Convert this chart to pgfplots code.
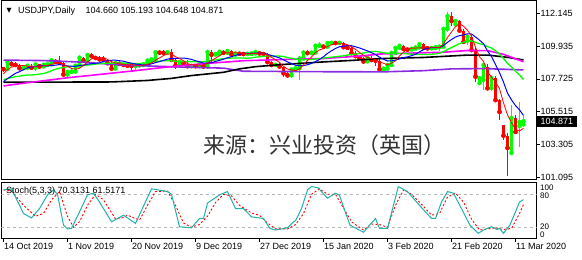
\documentclass[border=0pt]{standalone}
\usepackage{pgfplots}
\pgfplotsset{compat=1.18}
\usepackage{pgfplotstable}
\usepackage{fontspec}
\setmainfont{Liberation Sans}
\newfontfamily\cjk{Noto Sans CJK SC}
\newfontfamily\dejavu{DejaVu Sans}
\definecolor{bullc}{HTML}{00FF00}
\definecolor{bearc}{HTML}{FF0000}
\definecolor{maBlue}{HTML}{0000FF}
\definecolor{maGreen}{HTML}{00FF00}
\definecolor{maMag}{HTML}{FF00FF}
\definecolor{maPur}{HTML}{8A2BE2}
\definecolor{stMain}{HTML}{20B2AA}
\newcommand{\sm}{\fontsize{9}{9}\selectfont}

\pgfplotstableread{
x o h l c
0 108.45 108.52 108.22 108.38
1 108.38 108.92 108.30 108.86
2 108.86 108.94 108.62 108.72
3 108.72 108.86 108.56 108.66
4 108.66 108.74 108.30 108.44
5 108.44 108.50 108.40 108.46
6 108.46 108.70 108.38 108.62
7 108.62 108.76 108.40 108.48
8 108.48 108.74 108.24 108.70
9 108.70 108.76 108.50 108.56
10 108.56 108.72 108.52 108.68
11 108.68 108.74 108.64 108.70
12 108.70 109.08 108.66 108.98
13 108.98 109.06 108.76 108.88
14 108.88 109.28 108.80 108.82
15 108.82 108.90 107.90 108.02
16 108.02 108.32 107.88 108.20
17 108.20 108.26 108.14 108.22
18 108.22 108.72 108.18 108.62
19 108.62 109.24 108.56 109.16
20 109.16 109.22 108.82 108.96
21 108.96 109.48 108.90 109.34
22 109.34 109.48 109.12 109.26
23 109.26 109.30 109.10 109.14
24 109.14 109.24 108.90 109.04
25 109.04 109.24 108.94 109.00
26 109.00 109.06 108.64 108.78
27 108.78 108.84 108.24 108.42
28 108.42 108.86 108.30 108.78
29 108.78 108.82 108.68 108.74
30 108.74 108.82 108.56 108.66
31 108.66 108.80 108.48 108.62
32 108.62 108.70 108.24 108.60
33 108.60 108.70 108.30 108.64
34 108.64 108.78 108.44 108.66
35 108.66 108.76 108.62 108.70
36 108.70 109.04 108.64 108.96
37 108.96 109.12 108.86 109.04
38 109.04 109.58 109.00 109.52
39 109.52 109.62 109.38 109.50
40 109.50 109.70 109.40 109.48
41 109.48 109.56 109.42 109.52
42 109.52 109.72 108.96 109.00
43 109.00 109.08 108.40 108.62
44 108.62 108.90 108.44 108.86
45 108.86 108.94 108.66 108.76
46 108.76 109.00 108.46 108.58
47 108.58 108.66 108.52 108.60
48 108.60 108.70 108.46 108.58
49 108.58 108.86 108.56 108.76
50 108.76 108.82 108.44 108.56
51 108.56 109.70 108.48 109.54
52 109.54 109.70 108.80 109.36
53 109.36 109.46 109.30 109.40
54 109.40 109.60 109.32 109.56
55 109.56 109.66 109.42 109.48
56 109.48 109.72 109.40 109.60
57 109.60 109.68 109.26 109.36
58 109.36 109.54 109.30 109.44
59 109.44 109.50 109.38 109.42
60 109.42 109.52 109.30 109.40
61 109.40 109.50 109.34 109.42
62 109.42 109.48 109.38 109.44
63 109.44 109.62 109.34 109.54
64 109.54 109.60 109.30 109.44
65 109.44 109.48 109.36 109.40
66 109.40 109.44 108.80 108.86
67 108.86 108.96 108.50 108.66
68 108.66 108.72 108.60 108.68
69 108.68 108.86 108.46 108.56
70 108.56 108.60 107.84 108.10
71 108.10 108.16 107.90 107.96
72 107.96 108.40 107.78 108.36
73 108.36 108.60 108.24 108.44
74 108.44 109.24 107.66 109.10
75 109.10 109.66 109.00 109.50
76 109.50 109.70 109.42 109.46
77 109.46 109.52 109.40 109.50
78 109.50 110.04 109.44 109.96
79 109.96 110.20 109.86 109.98
80 109.98 110.02 109.82 109.90
81 109.90 110.18 109.86 110.14
82 110.14 110.30 110.06 110.16
83 110.16 110.20 110.10 110.14
84 110.14 110.20 110.08 110.16
85 110.16 110.18 109.76 109.86
86 109.86 110.00 109.72 109.82
87 109.82 109.92 109.40 109.46
88 109.46 109.62 109.20 109.26
89 109.26 109.30 109.10 109.14
90 109.14 109.18 108.74 108.90
91 108.90 109.22 108.80 109.14
92 109.14 109.28 108.96 109.00
93 109.00 109.10 108.58 108.96
94 108.96 109.14 108.30 108.36
95 108.36 108.50 108.30 108.42
96 108.42 108.82 108.32 108.66
97 108.66 109.52 108.62 109.48
98 109.48 109.86 109.44 109.82
99 109.82 110.04 109.76 109.96
100 109.96 110.02 109.62 109.74
101 109.74 109.80 109.66 109.70
102 109.70 109.86 109.62 109.76
103 109.76 109.98 109.68 109.84
104 109.84 110.14 109.80 110.06
105 110.06 110.12 109.72 109.82
106 109.82 109.96 109.70 109.78
107 109.78 109.84 109.72 109.80
108 109.80 109.94 109.70 109.86
109 109.86 109.96 109.62 109.90
110 109.90 111.20 109.84 111.10
111 111.10 112.24 110.90 111.95
112 111.95 112.20 111.30 111.62
113 111.40 111.75 111.30 111.62
114 111.62 111.70 110.90 110.98
115 110.98 111.10 110.20 110.22
116 110.30 110.66 110.00 110.56
117 110.56 110.70 109.55 109.67
118 109.67 109.80 107.50 107.88
119 107.44 107.90 107.30 107.78
120 107.65 108.80 107.00 108.66
121 108.55 108.70 107.00 107.09
122 107.10 108.00 106.90 107.78
123 107.78 107.90 106.20 106.30
124 106.30 106.40 104.95 105.50
125 104.60 104.60 103.60 103.90
126 103.90 104.10 101.18 103.07
127 102.73 105.96 102.60 105.09
128 105.09 105.30 104.10 104.15
129 104.55 106.17 103.14 104.82
130 104.660 105.193 104.648 104.871
}\ohlc

\pgfplotstableread{
x r b g
0 108.07 107.55 107.68
1 108.35 107.74 107.75
2 108.52 107.92 107.81
3 108.59 108.10 107.88
4 108.61 108.21 107.91
5 108.63 108.35 107.95
6 108.58 108.47 107.99
7 108.53 108.53 107.99
8 108.54 108.57 108.01
9 108.56 108.59 108.05
10 108.61 108.62 108.09
11 108.62 108.60 108.17
12 108.72 108.63 108.28
13 108.76 108.65 108.38
14 108.81 108.69 108.45
15 108.68 108.65 108.50
16 108.58 108.60 108.54
17 108.43 108.58 108.56
18 108.38 108.57 108.57
19 108.44 108.63 108.61
20 108.63 108.66 108.64
21 108.86 108.72 108.66
22 109.07 108.75 108.69
23 109.17 108.78 108.72
24 109.15 108.80 108.75
25 109.16 108.90 108.78
26 109.04 108.95 108.78
27 108.88 108.98 108.78
28 108.80 108.99 108.78
29 108.74 108.95 108.79
30 108.68 108.92 108.79
31 108.64 108.84 108.78
32 108.68 108.78 108.77
33 108.65 108.73 108.76
34 108.64 108.69 108.75
35 108.64 108.66 108.78
36 108.71 108.68 108.82
37 108.80 108.74 108.86
38 108.98 108.82 108.91
39 109.14 108.89 108.92
40 109.30 108.97 108.95
41 109.41 109.06 108.95
42 109.40 109.10 108.94
43 109.22 109.10 108.92
44 109.10 109.12 108.91
45 108.95 109.13 108.90
46 108.76 109.09 108.89
47 108.68 109.04 108.89
48 108.68 108.95 108.89
49 108.66 108.88 108.89
50 108.62 108.79 108.88
51 108.81 108.79 108.93
52 108.96 108.82 108.96
53 109.12 108.90 109.00
54 109.28 108.97 109.05
55 109.47 109.05 109.09
56 109.48 109.15 109.12
57 109.48 109.22 109.13
58 109.49 109.31 109.13
59 109.46 109.37 109.13
60 109.44 109.46 109.13
61 109.41 109.45 109.12
62 109.42 109.45 109.14
63 109.44 109.47 109.19
64 109.45 109.46 109.22
65 109.45 109.45 109.25
66 109.34 109.38 109.27
67 109.18 109.30 109.26
68 109.01 109.23 109.27
69 108.83 109.14 109.26
70 108.57 109.01 109.24
71 108.39 108.87 109.16
72 108.33 108.76 109.11
73 108.28 108.65 109.06
74 108.39 108.61 109.04
75 108.67 108.62 109.04
76 108.97 108.68 109.03
77 109.20 108.77 109.04
78 109.50 108.89 109.06
79 109.68 109.04 109.09
80 109.76 109.22 109.12
81 109.90 109.44 109.16
82 110.03 109.62 109.19
83 110.06 109.78 109.22
84 110.10 109.89 109.25
85 110.09 109.93 109.28
86 110.03 109.97 109.33
87 109.89 109.96 109.37
88 109.71 109.89 109.39
89 109.51 109.81 109.43
90 109.32 109.71 109.47
91 109.18 109.61 109.53
92 109.09 109.49 109.56
93 109.03 109.37 109.58
94 108.87 109.19 109.54
95 108.78 109.05 109.49
96 108.68 108.93 109.45
97 108.78 108.94 109.45
98 108.95 108.99 109.44
99 109.27 109.07 109.44
100 109.53 109.16 109.44
101 109.74 109.21 109.41
102 109.80 109.29 109.39
103 109.80 109.38 109.38
104 109.82 109.55 109.37
105 109.84 109.69 109.37
106 109.85 109.80 109.37
107 109.86 109.83 109.39
108 109.86 109.83 109.41
109 109.83 109.83 109.45
110 110.09 109.97 109.57
111 110.52 110.19 109.70
112 110.89 110.38 109.84
113 111.24 110.55 109.97
114 111.45 110.64 110.10
115 111.28 110.69 110.19
116 111.00 110.76 110.28
117 110.61 110.75 110.29
118 109.86 110.55 110.19
119 109.22 110.34 110.09
120 108.91 110.10 110.04
121 108.22 109.61 109.90
122 107.84 109.23 109.81
123 107.52 108.69 109.62
124 107.07 108.15 109.40
125 106.11 107.51 109.10
126 105.31 106.77 108.77
127 104.77 106.31 108.53
128 104.34 105.93 108.24
129 104.21 105.64 107.99
130 104.40 105.26 107.68
}\marbg

\pgfplotstableread{
x v
0 107.25
4 107.40
16 107.80
32 108.25
40 108.50
50 108.75
60 108.95
70 109.03
80 109.10
90 109.28
94 109.40
100 109.45
110 109.52
116 109.64
121 109.63
125 109.38
130 108.88
}\mamag

\pgfplotstableread{
x v
0 107.50
27 107.52
36 107.62
42 107.76
47 107.95
55 108.17
59 108.40
63 108.55
70 108.70
80 108.87
87 108.97
94 109.09
105 109.17
116 109.33
121 109.33
126 109.18
130 109.00
}\mablack

\pgfplotstableread{
x v
0 108.99
10 108.96
20 108.85
30 108.65
45 108.52
55 108.45
60 108.24
80 108.21
95 108.20
105 108.28
112 108.40
120 108.42
130 108.33
}\mapur

\pgfplotstableread{
x v
0 88
2 90
5 45
7 37
9 54
11 79
12.5 88
13.5 80
15 24
16 17
17 18
19 48
21 79
22.5 82
24 66
27 30
28 34
30 42
33 27
37 90
41 85
42 80
44 21
47 19
49 36
50 36
51 64
54 79
56 85
58 54
60 54
62 39
65 36
66.6 18
68 15
71 19
72.5 30
73 32
74.5 54
76 88
77 94
78.6 92
81 73
83 82
84 78
86.6 24
90 11
93 36
94 18
96 18
98.7 94
101 85
104 60
107 36
108 36
109.5 66
111 85
112.5 82
114.5 54
116.6 24
118.7 9
120 15
122 21
123.4 16
124 18
125 9
126.6 24
128 48
129 66
130 70.3131
}\stmain

\pgfplotstableread{
x v
0 88
2 86
5 60
8 40
10 45
12 70
14 85
16 40
17.5 20
19 30
21 60
23 80
25 70
28 35
30 38
31 42
34 33
36 60
38 85
41 86
43 60
45 28
47 20
49 25
51 40
53 65
55 80
57 77
59 60
62 46
64 42
66 28
68 17
71 17
73 25
75 45
77 80
79 90
81 80
83 80
85 55
87 30
90 15
92 26
94 25
96 20
98 60
100 88
102 80
105 58
107 42
109 45
111 75
113 82
115 66
117 35
119 15
121 17
123 19
125 16
127 18
129 45
130 61.5171
}\stsig

\begin{document}
\begin{tikzpicture}
\useasboundingbox (0,0) rectangle (582pt,260pt);

% ---------------- main price panel ----------------
\begin{axis}[
  at={(1.5pt,80pt)}, anchor=south west, scale only axis,
  width=535pt, height=179pt,
  xmin=-0.5, xmax=133.25, ymin=100.913, ymax=112.974,
  clip mode=individual,
  axis line style={black, line width=1pt},
  xtick=\empty,
  ytick={101.095,103.305,105.515,107.725,109.935,112.145},
  yticklabels={101.095,103.305,105.515,107.725,109.935,112.145},
  ytick pos=right, tick align=outside, major tick length=3pt,
  tick style={black, line width=0.8pt},
  yticklabel style={font=\sm, anchor=west, inner sep=0pt, xshift=1pt},
]
% wicks
\addplot[bullc, only marks, mark=none, forget plot,
  restrict expr to domain={\thisrow{c}-\thisrow{o}}{0:100},
  error bars/.cd, y dir=both, y explicit, error mark=none,
  error bar style={line width=1pt}]
  table[x=x, y=c, y error plus expr={\thisrow{h}-\thisrow{c}}, y error minus expr={\thisrow{c}-\thisrow{l}}] {\ohlc};
\addplot[bearc, only marks, mark=none, forget plot,
  restrict expr to domain={\thisrow{c}-\thisrow{o}}{-100:-0.00001},
  error bars/.cd, y dir=both, y explicit, error mark=none,
  error bar style={line width=1pt}]
  table[x=x, y=c, y error plus expr={\thisrow{h}-\thisrow{c}}, y error minus expr={\thisrow{c}-\thisrow{l}}] {\ohlc};
% bodies
\addplot[bullc, only marks, mark=none, forget plot,
  restrict expr to domain={\thisrow{c}-\thisrow{o}}{0:100},
  error bars/.cd, y dir=plus, y explicit, error mark=none,
  error bar style={line width=3pt}]
  table[x=x, y=o, y error plus expr={\thisrow{c}-\thisrow{o}}] {\ohlc};
\addplot[bearc, only marks, mark=none, forget plot,
  restrict expr to domain={\thisrow{c}-\thisrow{o}}{-100:-0.00001},
  error bars/.cd, y dir=plus, y explicit, error mark=none,
  error bar style={line width=3pt}]
  table[x=x, y=c, y error plus expr={\thisrow{o}-\thisrow{c}}] {\ohlc};
% moving averages
\addplot[maPur, line width=1.6pt] table[x=x, y=v] {\mapur};
\addplot[black, line width=1.6pt] table[x=x, y=v] {\mablack};
\addplot[maMag, line width=1.6pt] table[x=x, y=v] {\mamag};
\addplot[maGreen, line width=1.3pt] table[x=x, y=g] {\marbg};
\addplot[maBlue, line width=1pt] table[x=x, y=b] {\marbg};
\addplot[bearc, line width=0.8pt] table[x=x, y=r] {\marbg};
% current price box
\node[fill=black, text=white, anchor=west, inner xsep=4pt, inner ysep=2.5pt, font=\sm]
  at (axis cs:133.25,104.871) {104.871};
\end{axis}

% ---------------- stochastic panel ----------------
\begin{axis}[
  at={(1.5pt,21pt)}, anchor=south west, scale only axis,
  width=535pt, height=56.3pt,
  xmin=-0.5, xmax=133.25, ymin=-1.3, ymax=101.1,
  axis line style={black, line width=1pt},
  ytick=\empty,
  xtick={0,16,32,48,64,80,96,112,128},
  xticklabels={14 Oct 2019,1 Nov 2019,20 Nov 2019,9 Dec 2019,27 Dec 2019,15 Jan 2020,3 Feb 2020,21 Feb 2020,11 Mar 2020},
  xtick pos=bottom, tick align=outside, major tick length=3pt,
  tick style={black, line width=0.8pt},
  xticklabel style={font=\sm, anchor=north west, inner sep=0pt, xshift=0.5pt, yshift=-1pt},
]
\addplot[gray!55, dashed, line width=0.8pt] coordinates {(-0.5,80) (133.25,80)};
\addplot[gray!55, dashed, line width=0.8pt] coordinates {(-0.5,20) (133.25,20)};
\addplot[bearc, line width=0.9pt, dash pattern=on 2pt off 2pt] table[x=x, y=v] {\stsig};
\addplot[stMain, line width=1pt] table[x=x, y=v] {\stmain};
\end{axis}

% ---------------- texts ----------------
\node[anchor=center, inner sep=0pt] at (9pt,249.5pt) {\dejavu\fontsize{6.5}{6.5}\selectfont ▼};
\node[anchor=base west, inner sep=0pt, font=\sm] at (18pt,246.7pt) {USDJPY,Daily};
\node[anchor=base west, inner sep=0pt, font=\sm] at (85.5pt,246.7pt) {104.660 105.193 104.648 104.871};
\node[anchor=west, inner sep=0pt, font=\sm] at (6pt,69pt) {Stoch(5,3,3) 70.3131 61.5171};
\node[anchor=west, inner sep=0pt, font=\fontsize{8}{8}\selectfont] at (540pt,72.5pt) {100};
\node[anchor=west, inner sep=0pt, font=\fontsize{8}{8}\selectfont] at (540pt,64.5pt) {80};
\node[anchor=west, inner sep=0pt, font=\fontsize{8}{8}\selectfont] at (540pt,33.5pt) {20};
\node[anchor=west, inner sep=0pt, font=\fontsize{8}{8}\selectfont] at (540pt,25.5pt) {0};
\node[anchor=west, inner sep=0pt, text=black!80, font=\cjk\fontsize{22}{22}\selectfont] at (203pt,115pt) {来源：兴业投资（英国）};
\end{tikzpicture}
\end{document}
